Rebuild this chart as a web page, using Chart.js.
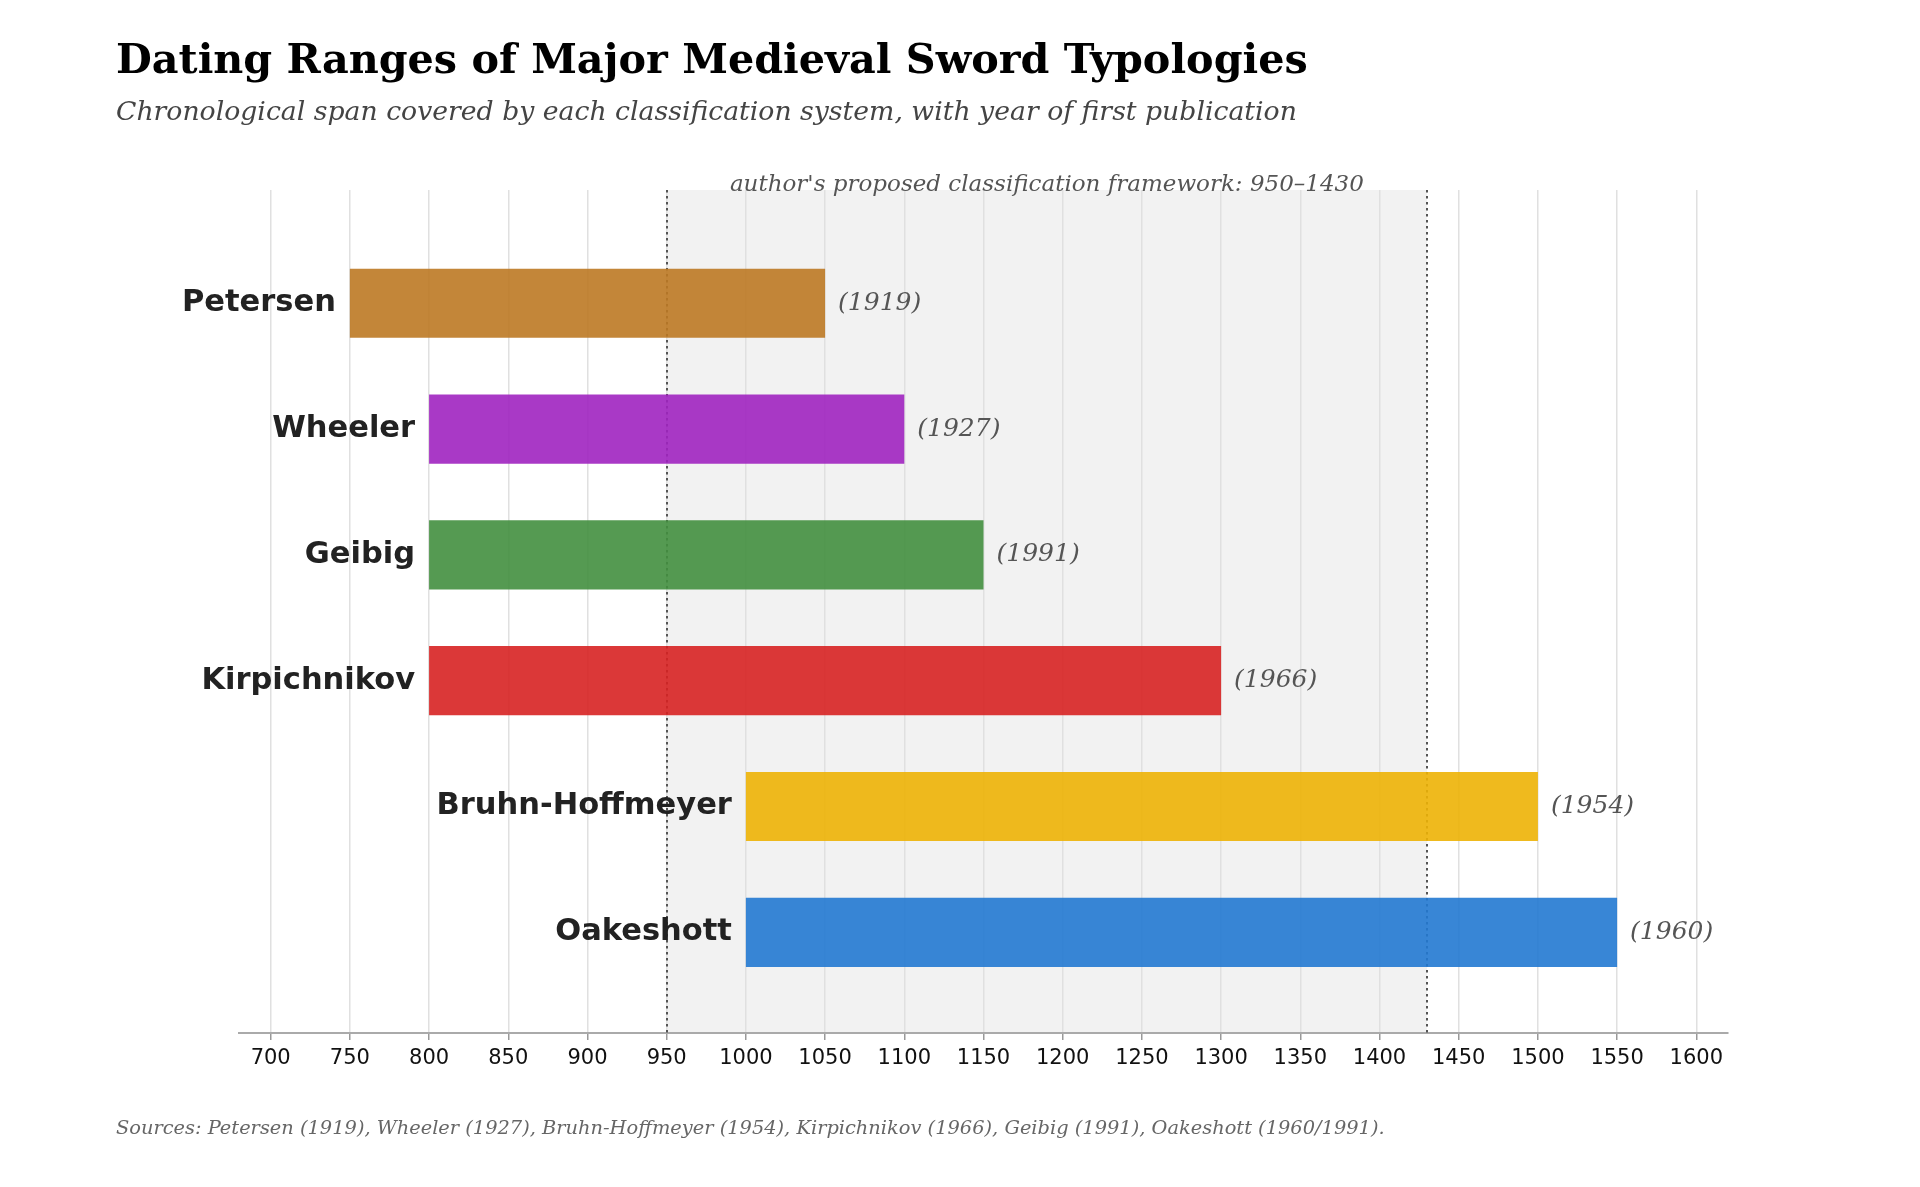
<!DOCTYPE html>
<html>
<head>
<meta charset="utf-8">
<title>Dating Ranges of Major Medieval Sword Typologies</title>
<script src="https://cdn.jsdelivr.net/npm/chart.js@4.4.1/dist/chart.umd.min.js"></script>
<style>
  html, body { margin: 0; padding: 0; background: #fff; }
  #wrap { width: 1920px; height: 1187px; position: relative; }
</style>
</head>
<body>
<div id="wrap"><canvas id="swordChart"></canvas></div>
<script>
// data
var typologies = ['Petersen', 'Wheeler', 'Geibig', 'Kirpichnikov', 'Bruhn-Hoffmeyer', 'Oakeshott'];
var startYears = [750, 800, 800, 800, 1000, 1000];
var endYears = [1050, 1100, 1150, 1300, 1500, 1550];
var pubYears = [1919, 1927, 1991, 1966, 1954, 1960];
var framework = [950, 1430];
var yearTicks = [700, 750, 800, 850, 900, 950, 1000, 1050, 1100, 1150, 1200, 1250, 1300, 1350, 1400, 1450, 1500, 1550, 1600];
var barColors = [
    'rgba(189, 121, 36, 0.9)',
    'rgba(160, 36, 192, 0.9)',
    'rgba(66, 143, 63, 0.9)',
    'rgba(215, 34, 34, 0.9)',
    'rgba(237, 178, 5, 0.9)',
    'rgba(34, 121, 210, 0.9)'
];

var serif = '"DejaVu Serif", "Liberation Serif", serif';
var sans = '"DejaVu Sans", "Liberation Sans", sans-serif';

// shaded band behind the grid
var bandPlugin = {
    id: 'band',
    beforeDraw: function (chart) {
        var c = chart.ctx, a = chart.chartArea, x = chart.scales.x;
        var x0 = x.getPixelForValue(framework[0]);
        var x1 = x.getPixelForValue(framework[1]);
        c.save();
        c.fillStyle = '#f2f2f2';
        c.fillRect(x0, a.top, x1 - x0, a.bottom - a.top);
        c.restore();
    },
    beforeDatasetsDraw: function (chart) {
        var c = chart.ctx, a = chart.chartArea, x = chart.scales.x;
        c.save();
        c.strokeStyle = '#555';
        c.lineWidth = 2;
        c.setLineDash([2.5, 3.5]);
        framework.forEach(function (v) {
            var px = Math.round(x.getPixelForValue(v));
            c.beginPath();
            c.moveTo(px, a.top);
            c.lineTo(px, a.bottom);
            c.stroke();
        });
        c.restore();
    }
};

// texts: titles, bar labels, notes
var textPlugin = {
    id: 'texts',
    afterDatasetsDraw: function (chart) {
        var c = chart.ctx, x = chart.scales.x, y = chart.scales.y, a = chart.chartArea;
        c.save();
        c.textBaseline = 'alphabetic';

        c.fillStyle = '#000';
        c.font = 'bold 41.3px ' + serif;
        c.textAlign = 'left';
        c.fillText('Dating Ranges of Major Medieval Sword Typologies', 116, 73);

        c.fillStyle = '#444';
        c.font = 'italic 26.7px ' + serif;
        c.fillText('Chronological span covered by each classification system, with year of first publication', 116, 120);

        c.fillStyle = '#555';
        c.font = 'italic 23px ' + serif;
        c.textAlign = 'center';
        var mid = (x.getPixelForValue(framework[0]) + x.getPixelForValue(framework[1])) / 2;
        c.fillText("author's proposed classification framework: " + framework[0] + '\u2013' + framework[1], mid, a.top + 1);

        c.textBaseline = 'middle';
        typologies.forEach(function (name, i) {
            var py = y.getPixelForValue(i);
            c.fillStyle = '#222';
            c.font = 'bold 30.5px ' + sans;
            c.textAlign = 'right';
            c.fillText(name, x.getPixelForValue(startYears[i]) - 14, py);

            c.fillStyle = '#555';
            c.font = 'italic 25px ' + serif;
            c.textAlign = 'left';
            c.fillText('(' + pubYears[i] + ')', x.getPixelForValue(endYears[i]) + 13, py);
        });

        c.textBaseline = 'alphabetic';
        c.textAlign = 'left';
        c.fillStyle = '#666';
        c.font = 'italic 19.4px ' + serif;
        c.fillText('Sources: Petersen (1919), Wheeler (1927), Bruhn-Hoffmeyer (1954), Kirpichnikov (1966), Geibig (1991), Oakeshott (1960/1991).', 116, 1134);
        c.restore();
    }
};

var ctx = document.getElementById('swordChart').getContext('2d');

var swordChart = new Chart(ctx, {
    type: 'bar',
    data: {
        datasets: [{
            label: 'Dating range',
            data: typologies.map(function (name, i) {
                return { x: [startYears[i], endYears[i]], y: i };
            }),
            backgroundColor: barColors,
            borderWidth: 0,
            categoryPercentage: 1,
            barPercentage: 0.55
        }]
    },
    options: {
        indexAxis: 'y',
        responsive: true,
        maintainAspectRatio: false,
        animation: false,
        layout: {
            padding: { left: 239, right: 192, top: 190, bottom: 0 }
        },
        plugins: {
            legend: { display: false },
            tooltip: { enabled: false }
        },
        scales: {
            x: {
                type: 'linear',
                min: 680,
                max: 1620,
                afterBuildTicks: function (scale) {
                    scale.ticks = yearTicks.map(function (v) { return { value: v }; });
                },
                afterFit: function (scale) {
                    scale.height = 154;
                },
                ticks: {
                    autoSkip: false,
                    maxRotation: 0,
                    padding: 6,
                    color: '#111',
                    font: { family: sans, size: 21 },
                    callback: function (v) { return String(v); }
                },
                grid: {
                    color: '#e0e0e0',
                    lineWidth: 1.5,
                    tickColor: '#999',
                    tickLength: 7,
                    tickWidth: 1.5
                },
                border: { color: '#aaa', width: 2 }
            },
            y: {
                type: 'linear',
                display: false,
                reverse: true,
                offset: false,
                min: -0.9,
                max: 5.8,
                afterBuildTicks: function (scale) {
                    scale.ticks = typologies.map(function (n, i) { return { value: i }; });
                }
            }
        }
    },
    plugins: [bandPlugin, textPlugin]
});
</script>
</body>
</html>
